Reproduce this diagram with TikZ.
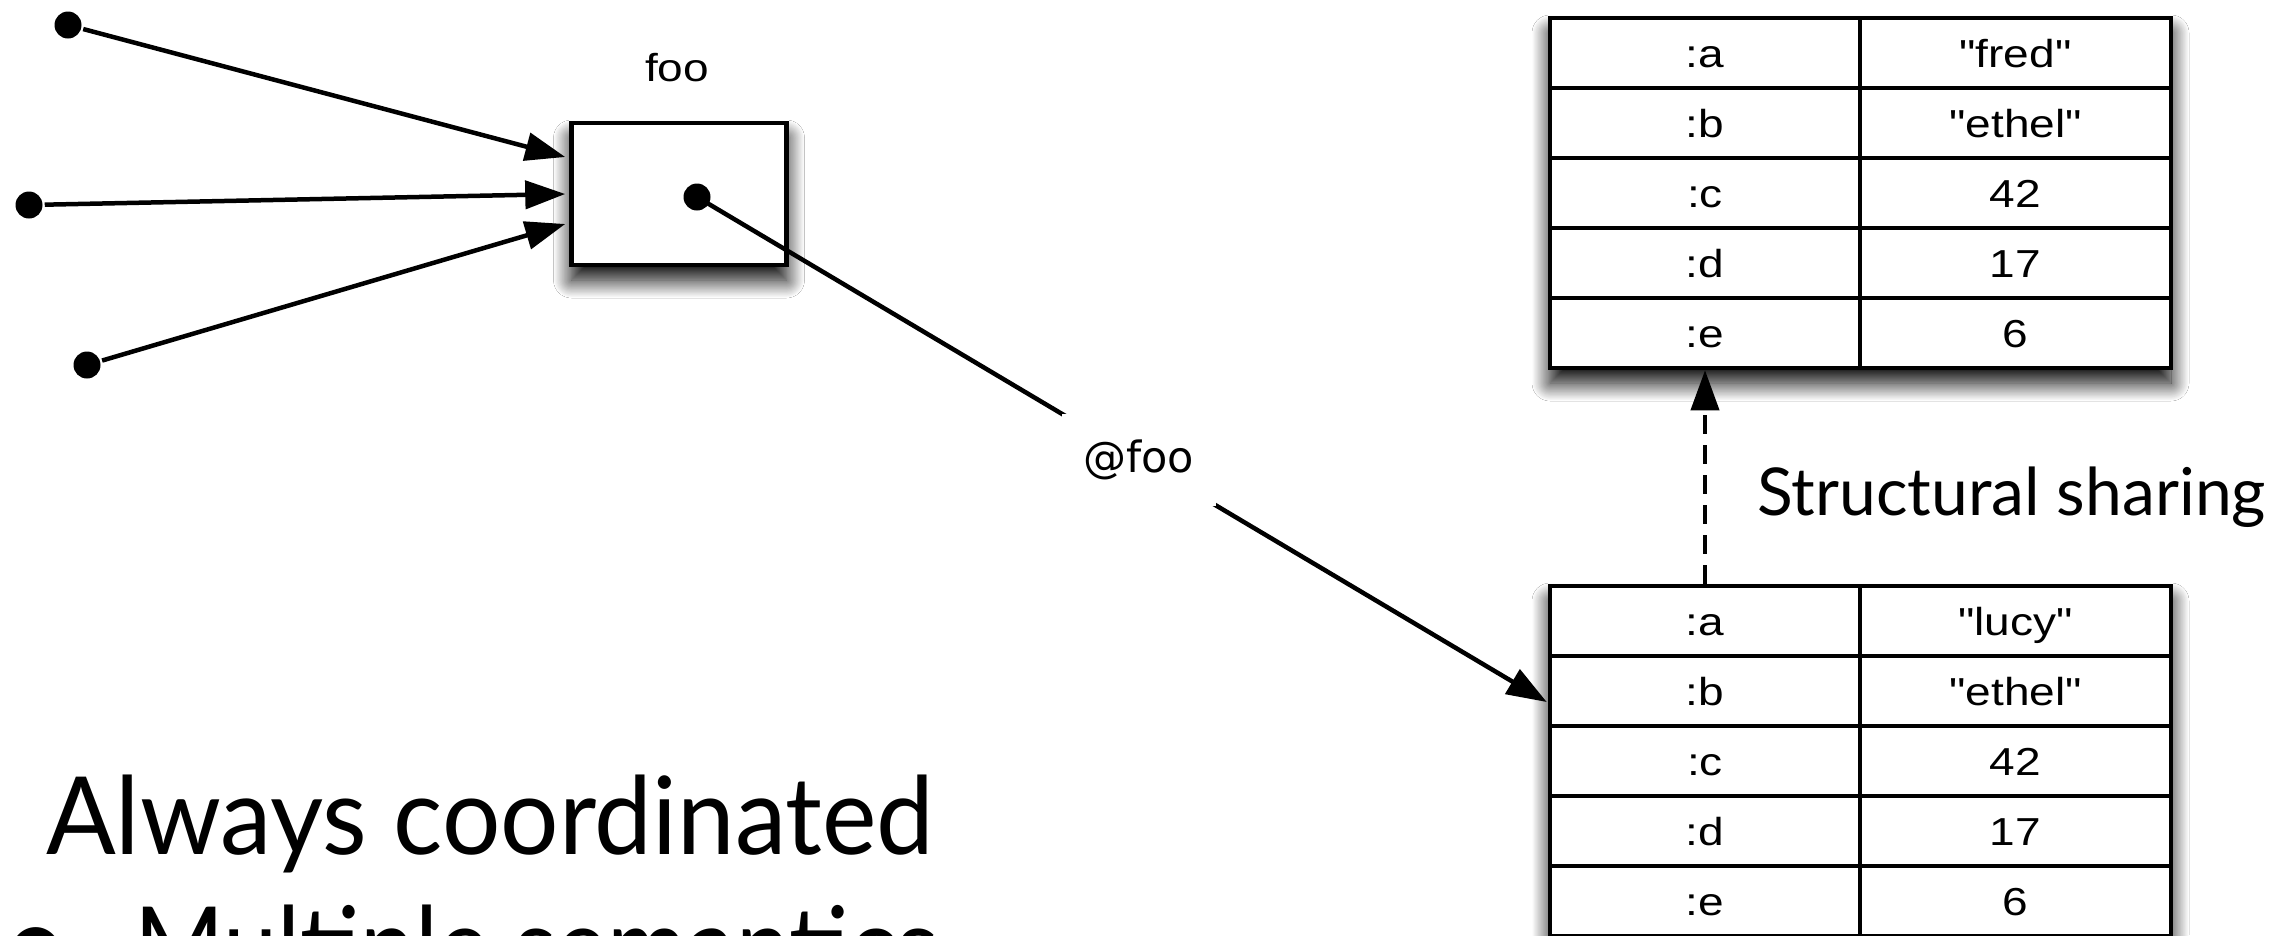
\documentclass[tikz,border=0pt]{standalone}
\usepackage{fontspec}
\usepackage{graphicx}
\setmainfont{Liberation Sans}
\newfontfamily\slidefont{Lato}
\newfontfamily\linklabelfont{DejaVu Sans}
\usetikzlibrary{arrows.meta,shadows.blur}
% diagram labels are set slightly wide
\newcommand\widetext[1]{\scalebox{1.18}[1]{#1}}
\newcommand\qq[1]{\textquotedbl#1\textquotedbl}
\begin{document}
\begin{tikzpicture}[x=1pt,y=-1pt,
  line width=4.5pt,
  softshadow/.style={blur shadow={shadow xshift=0pt,shadow yshift=-15pt,
      shadow blur radius=18pt,shadow opacity=100,shadow blur steps=30}},
  small/.style={font=\fontsize{39}{44}\selectfont},
  pin/.style={circle,fill=black,minimum size=27pt,inner sep=0pt},
  ptr/.style={-{Triangle[length=40pt,width=28pt]}},
  dashptr/.style={-{Triangle[length=40pt,width=28pt]},line width=4pt,
      dash pattern=on 19pt off 11pt},
  cell/.style={draw,line width=4.5pt,minimum height=70pt,inner sep=0pt,
      text height=28pt,text depth=0pt,small},
  keycell/.style={cell,minimum width=310pt},
  valcell/.style={cell,minimum width=311pt},
  tablebox/.style={draw,fill=white,softshadow,minimum width=621pt,
      minimum height=350pt,inner sep=0pt},
  slide/.style={font=\slidefont\fontsize{108}{112}\selectfont,inner sep=0pt},
]
\useasboundingbox[fill=white] (0,0) rectangle (2277,935);

% the variable box and its name
\node[draw,fill=white,softshadow,minimum width=215pt,minimum height=142pt,
      inner sep=0pt] (foo) at (679,194) {};
\node[small] (foolbl) at (677,68) {\widetext{foo}};
\node[pin] (p) at (697,197) {};

% references pointing at the box
\node[pin] (s1) at (68,25) {};
\node[pin] (s2) at (29,205) {};
\node[pin] (s3) at (87,365) {};
\draw[ptr] (s1) -- ([xshift=-4pt,yshift=37pt]foo.west);
\draw[ptr] (s2) -- ([xshift=-4pt]foo.west);
\draw[ptr] (s3) -- ([xshift=-4pt,yshift=-30pt]foo.west);

% original map
\node[tablebox] (t1) at (1860.5,193) {};
\node[keycell] (t1k1) at (1705,53)  {\widetext{:a}};
\node[valcell] (t1v1) at (2015.5,53)  {\widetext{\qq{fred}}};
\node[keycell] (t1k2) at (1705,123) {\widetext{:b}};
\node[valcell] (t1v2) at (2015.5,123) {\widetext{\qq{ethel}}};
\node[keycell] (t1k3) at (1705,193) {\widetext{:c}};
\node[valcell] (t1v3) at (2015.5,193) {\widetext{42}};
\node[keycell] (t1k4) at (1705,263) {\widetext{:d}};
\node[valcell] (t1v4) at (2015.5,263) {\widetext{17}};
\node[keycell] (t1k5) at (1705,333) {\widetext{:e}};
\node[valcell] (t1v5) at (2015.5,333) {\widetext{6}};

% updated map
\node[tablebox] (t2) at (1860.5,761) {};
\node[keycell] (t2k1) at (1705,621)  {\widetext{:a}};
\node[valcell] (t2v1) at (2015.5,621)  {\widetext{\qq{lucy}}};
\node[keycell] (t2k2) at (1705,691) {\widetext{:b}};
\node[valcell] (t2v2) at (2015.5,691) {\widetext{\qq{ethel}}};
\node[keycell] (t2k3) at (1705,761) {\widetext{:c}};
\node[valcell] (t2v3) at (2015.5,761) {\widetext{42}};
\node[keycell] (t2k4) at (1705,831) {\widetext{:d}};
\node[valcell] (t2v4) at (2015.5,831) {\widetext{17}};
\node[keycell] (t2k5) at (1705,901) {\widetext{:e}};
\node[valcell] (t2v5) at (2015.5,901) {\widetext{6}};

% the box now holds the updated map
\draw[ptr] (p.center) -- node[pos=0.52,fill=white,inner xsep=22pt,inner ysep=26pt,
    font=\linklabelfont\fontsize{43}{48}\selectfont] (lbl) {@foo}
    ([xshift=-1pt,yshift=-11pt]t2k2.west);

% sharing between the two maps
\draw[dashptr] (t2k1.north) -- (t1k5.south);
\node[slide,font=\slidefont\fontsize{66}{72}\selectfont,anchor=base west]
    (share) at (1755,515) {Structural sharing};

% slide text
\node[slide,anchor=base west] (always) at (44,854)
    {\scalebox{0.955}[1]{Always coordinated}};
\node[slide,font=\slidefont\fontsize{130}{130}\selectfont,anchor=base west]
    (bullet) at (-4,990) {\textbullet};
\node[slide,anchor=base west] (multi) at (132,984)
    {\scalebox{0.9}[1]{Multiple semantics}};
\end{tikzpicture}
\end{document}
